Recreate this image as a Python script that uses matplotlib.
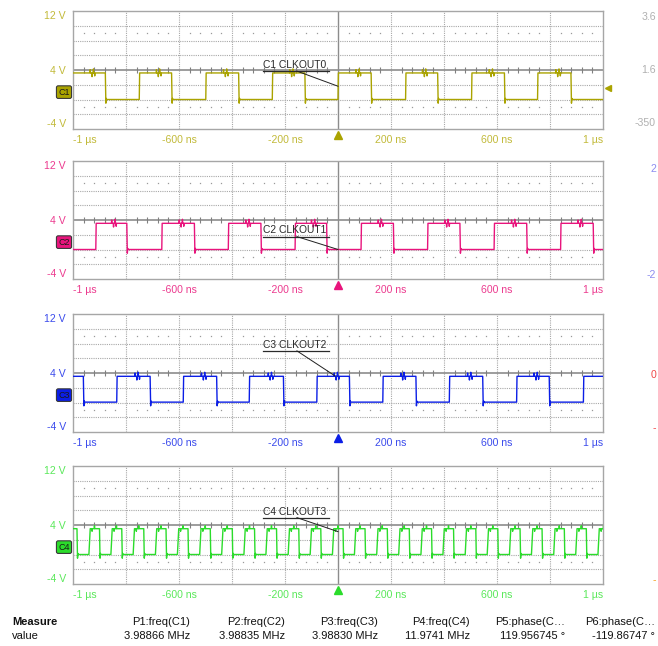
import matplotlib
matplotlib.use('Agg')
import matplotlib.pyplot as plt
import matplotlib.transforms as mtrans
import numpy as np

plt.rcParams['font.family'] = ['Liberation Sans', 'DejaVu Sans']

# ---------------- scope settings ----------------
t_min, t_max = -1000, 1000          # ns
v_min, v_max = -4, 12               # V

channels = ['C1', 'C2', 'C3', 'C4']
names = ['CLKOUT0', 'CLKOUT1', 'CLKOUT2', 'CLKOUT3']
trace_colors = ['#aaa300', '#e8147c', '#0b1ee6', '#2bdc2b']
label_colors = ['#c2ba3a', '#ec3b8f', '#3b4bec', '#5ae85a']

x_tick_vals = [-1000, -600, -200, 200, 600, 1000]
x_tick_text = ['-1 \u00b5s', '-600 ns', '-200 ns', '200 ns', '600 ns', '1 \u00b5s']
y_tick_vals = [-4, 4, 12]
y_tick_text = ['-4 V', '4 V', '12 V']

# ---------------- edges (ns) ----------------
c1_rise = [-750, -499, -248, 0, 255, 504, 753]
c1_fall = [-878, -628, -375, -125, 125, 376, 628, 879]
c2_rise = [-914, -665, -414, -162, 87, 338, 589, 840]
c2_fall = [-797, -542, -291, -43, 209, 460, 712, 963]
c3_rise = [-835, -584, -335, -80, 169, 420, 674, 926]
c3_fall = [-961, -709, -458, -206, 43, 294, 546, 797]
c4_rise = [-940, -857, -773, -689, -606, -522, -439, -355, -272, -188, -105, -21,
           62, 146, 229, 313, 396, 480, 563, 647, 730, 814, 897, 981]
c4_fall = [-985, -900, -816, -733, -649, -566, -482, -399, -315, -232, -148, -65,
           19, 102, 186, 269, 353, 436, 520, 603, 687, 770, 854, 937]

start_high = [True, False, True, True]
high_level = [3.6, 3.55, 3.55, 3.5]
low_level = [0.0, 0.0, 0.05, 0.0]

# ringing spikes on the high level of C1..C3 (ns before the falling edge, V)
glitch_dt = [-57, -50, -45, -40]
glitch_dv = [0.45, -0.5, 0.55, -0.4]
# ringing spikes on the high level of C4 (ns after the rising edge, V)
c4_glitch_dt = [5, 12, 21]
c4_glitch_dv = [0.45, -0.35, 0.4]

# measurement table
measure_names = ['P1:freq(C1)', 'P2:freq(C2)', 'P3:freq(C3)', 'P4:freq(C4)',
                 'P5:phase(C\u2026', 'P6:phase(C\u2026']
measure_values = ['3.98866 MHz', '3.98835 MHz', '3.98830 MHz', '11.9741 MHz',
                  '119.956745 \u00b0', '-119.86747 \u00b0']


def add_spikes(xs, ys, t_ref, hi, g_dt, g_dv):
    for dt, dv in zip(g_dt, g_dv):
        t = t_ref + dt
        if t - 1 > xs[-1]:
            xs += [t - 1, t, t + 1]
            ys += [hi, hi + dv, hi]


def build_trace(rises, falls, hi, lo, hi_first, t_up, g_after_rise, g_dt, g_dv):
    edges = sorted([(t, 1) for t in rises] + [(t, 0) for t in falls])
    xs, ys = [t_min], [hi if hi_first else lo]
    for t, kind in edges:
        if kind == 0:
            if not g_after_rise:
                add_spikes(xs, ys, t, hi, g_dt, g_dv)
            xs += [t, t + 2, t + 3.5, t + 5]
            ys += [hi, lo - 0.5, lo + 0.15, lo]
        else:
            xs += [t, t + t_up]
            ys += [lo, hi]
            if g_after_rise:
                add_spikes(xs, ys, t, hi, g_dt, g_dv)
    xs.append(t_max); ys.append(ys[-1])
    return xs, ys


traces = [
    build_trace(c1_rise, c1_fall, high_level[0], low_level[0], start_high[0], 1.5, False, glitch_dt, glitch_dv),
    build_trace(c2_rise, c2_fall, high_level[1], low_level[1], start_high[1], 1.5, False, glitch_dt, glitch_dv),
    build_trace(c3_rise, c3_fall, high_level[2], low_level[2], start_high[2], 1.5, False, glitch_dt, glitch_dv),
    build_trace(c4_rise, c4_fall, high_level[3], low_level[3], start_high[3], 5.0, True, c4_glitch_dt, c4_glitch_dv),
]

# ---------------- layout ----------------
W, H = 658, 646
fig = plt.figure(figsize=(W / 100, H / 100), dpi=100, facecolor='white')
ax_left, ax_width, ax_h = 73, 530, 118
ax_tops = [11, 161, 314, 466]

# annotation layout per panel (data coords)
ann_underline_v = [3.85, 1.75, 7.0, 5.0]
ann_tip = [(0, 1.8), (0, 0.0), (-11, 3.6), (0, 3.1)]

grid_t = [-800, -600, -400, -200, 200, 400, 600, 800]
grid_v = [10, 8, 6, 2, 0, -2]
minor_t = [t for t in range(-960, 1000, 40) if t % 200 != 0]

for i in range(4):
    ax = fig.add_axes([ax_left / W, 1 - (ax_tops[i] + ax_h) / H, ax_width / W, ax_h / H])
    ax.set_xlim(t_min, t_max)
    ax.set_ylim(v_min, v_max)
    for s in ax.spines.values():
        s.set_color('#a6a6a6')
        s.set_linewidth(1.0)

    # graticule
    for t in grid_t:
        ax.axvline(t, color='#a8a8a8', lw=0.8, ls=(0, (1, 1)), zorder=1)
    for v in grid_v:
        ax.axhline(v, color='#a8a8a8', lw=0.8, ls=(0, (1, 1)), zorder=1)
    ax.axvline(0, color='#8c8c8c', lw=1.0, zorder=1)
    ax.axhline(4, color='#8c8c8c', lw=1.2, zorder=1)
    ax.plot(minor_t, [4] * len(minor_t), ls='none', marker='|', ms=4, mew=0.8,
            color='#808080', zorder=1)
    for v in (9, -1):
        ax.plot(minor_t, [v] * len(minor_t), ls='none', marker='s', ms=0.9, mew=0,
                color='#9a9a9a', zorder=1)

    # trace
    xs, ys = traces[i]
    ax.plot(xs, ys, color=trace_colors[i], lw=1.0, zorder=3)

    # ticks
    ax.set_xticks(x_tick_vals)
    ax.set_xticklabels(x_tick_text)
    ax.set_yticks(y_tick_vals)
    ax.set_yticklabels(y_tick_text)
    ax.tick_params(length=0, labelsize=7.6, colors=label_colors[i])
    ax.tick_params(axis='x', pad=4)
    ax.tick_params(axis='y', pad=5)
    xl = ax.get_xticklabels()
    xl[0].set_ha('left')
    xl[-1].set_ha('right')
    yl = ax.get_yticklabels()
    yl[0].set_va('bottom')
    yl[-1].set_va('top')

    # trigger marker below the grid
    bt = mtrans.blended_transform_factory(ax.transData, ax.transAxes)
    ax.plot([0], [-0.05], marker='^', ms=5.5, color=trace_colors[i],
            transform=bt, clip_on=False, zorder=5)

    # channel badge at the left
    lt = mtrans.blended_transform_factory(ax.transAxes, ax.transData)
    ax.text(-0.017, 1.0, channels[i], transform=lt, ha='center', va='center',
            fontsize=6.5, color='#1a1a1a',
            bbox=dict(boxstyle='round,pad=0.2', fc=trace_colors[i], ec='#3a3a3a', lw=0.8),
            zorder=6)

    # label with underline and leader
    uv = ann_underline_v[i]
    ax.text(-283, uv + 0.15, channels[i] + ' ' + names[i], ha='left', va='bottom',
            fontsize=7.4, color='#2a2a2a', zorder=6)
    ax.plot([-283, -34], [uv, uv], color='#2a2a2a', lw=0.9, zorder=6)
    ax.plot([-155, ann_tip[i][0]], [uv, ann_tip[i][1]], color='#202020', lw=0.7, zorder=6)

    if i == 0:
        ax.plot([1.01], [1.6], marker='<', ms=5, color=trace_colors[0],
                transform=mtrans.blended_transform_factory(ax.transAxes, ax.transData),
                clip_on=False)

# right side readouts
def fig_y(py):
    return 1 - py / H

rx = 656 / W
fig.text(rx, fig_y(17), '3.6', ha='right', va='center', fontsize=7.6, color='#b0b0b0')
fig.text(rx, fig_y(70), '1.6', ha='right', va='center', fontsize=7.6, color='#b0b0b0')
fig.text(rx, fig_y(123), '-350', ha='right', va='center', fontsize=7.6, color='#b0b0b0')
fig.text(rx, fig_y(169), '2', ha='right', va='center', fontsize=7.6, color='#8c8cf0')
fig.text(rx, fig_y(275), '-2', ha='right', va='center', fontsize=7.6, color='#8c8cf0')
fig.text(rx, fig_y(375), '0', ha='right', va='center', fontsize=7.6, color='#f04848')
fig.text(rx, fig_y(428), '-', ha='right', va='center', fontsize=7.6, color='#f04848')
fig.text(rx, fig_y(580), '-', ha='right', va='center', fontsize=7.6, color='#f5a020')

# measurement table
col_right_px = [190, 285, 378, 470, 565, 655]
fig.text(12 / W, fig_y(622), 'Measure', ha='left', va='center', fontsize=8,
         fontweight='bold', color='#111111')
fig.text(12 / W, fig_y(636), 'value', ha='left', va='center', fontsize=8, color='#111111')
for name, val, xr in zip(measure_names, measure_values, col_right_px):
    fig.text(xr / W, fig_y(622), name, ha='right', va='center', fontsize=8, color='#111111')
    fig.text(xr / W, fig_y(636), val, ha='right', va='center', fontsize=8, color='#111111')

fig.savefig('out.png', dpi=100)
